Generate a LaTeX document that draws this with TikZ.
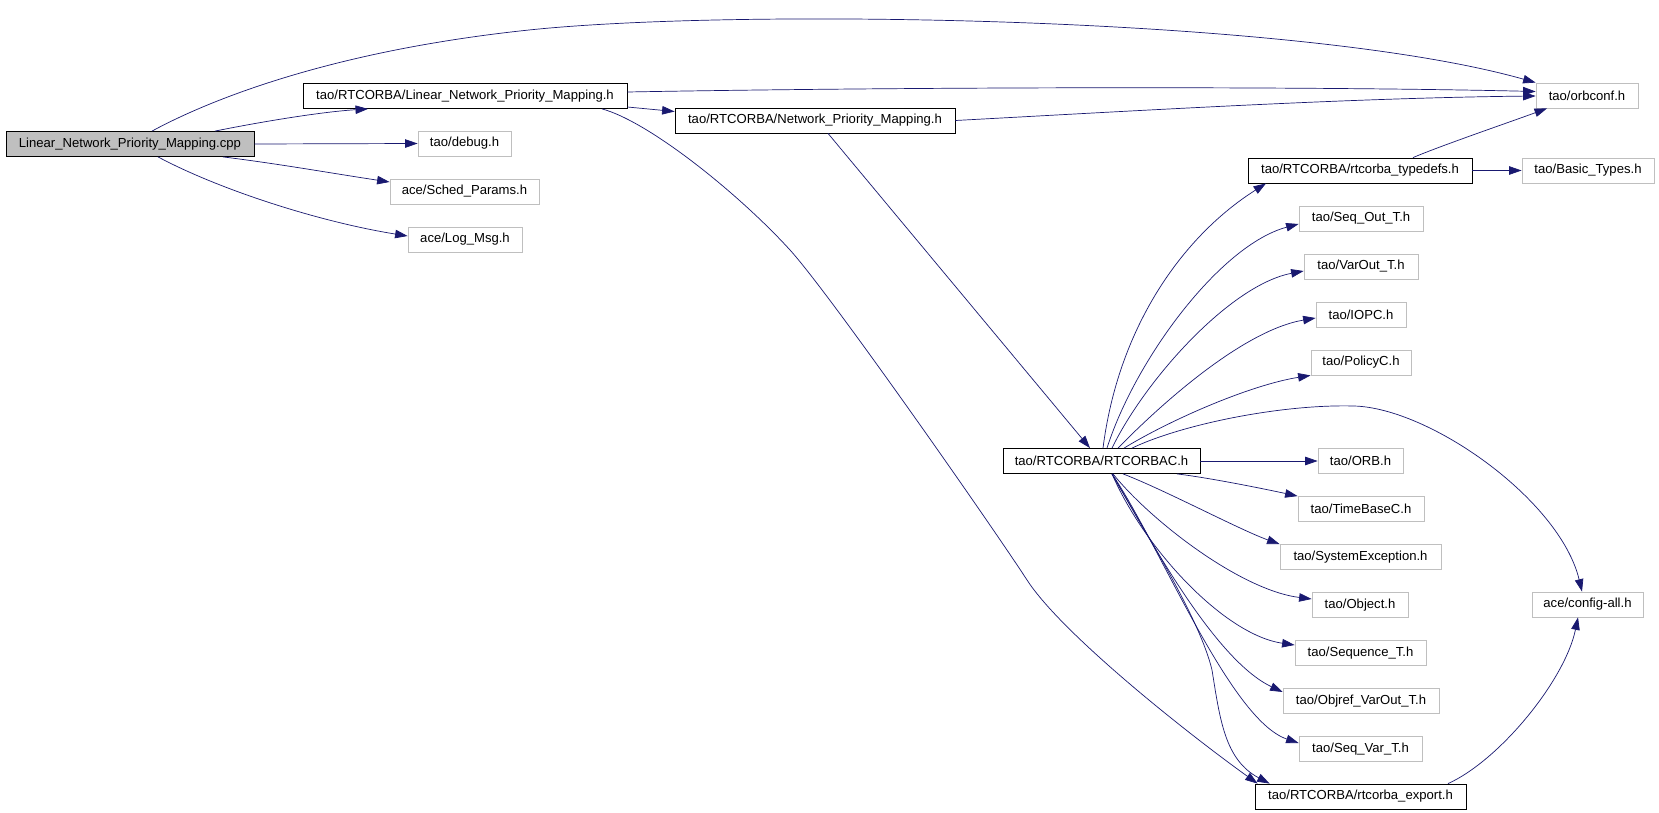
\documentclass[tikz,border=0pt]{standalone}
\usepackage{fontspec}
\setmainfont{Liberation Sans}
\usetikzlibrary{arrows.meta}
\definecolor{edgec}{HTML}{191970}
\definecolor{gbord}{HTML}{BFBFBF}
\begin{document}
\begin{tikzpicture}[x=1pt,y=-1pt,
  box/.style={draw=black, line width=0.8pt, inner sep=0pt, minimum height=25pt, font=\fontsize{13.1}{15}\selectfont, text=black},
  gbox/.style={box, draw=gbord},
  edge/.style={draw=edgec, line width=0.7pt, -{Triangle[length=12.5pt,width=8.5pt]}}]
\useasboundingbox[fill=white] (0,0) rectangle (1659,813);
% nodes
\node[box, fill=gbord, minimum width=248pt] (cpp) at (130,144) {Linear\_Network\_Priority\_Mapping.cpp};
\node[box, minimum width=324pt] (lnpm) at (465,96) {tao/RTCORBA/Linear\_Network\_Priority\_Mapping.h};
\node[gbox, minimum width=93pt] (debug) at (464.5,143.5) {tao/debug.h};
\node[gbox, minimum width=149pt] (sched) at (464.5,191.5) {ace/Sched\_Params.h};
\node[gbox, minimum width=114pt] (logmsg) at (465,239.5) {ace/Log\_Msg.h};
\node[gbox, minimum width=102pt] (orbconf) at (1587,95.5) {tao/orbconf.h};
\node[box, minimum width=280pt] (npm) at (815,120.5) {tao/RTCORBA/Network\_Priority\_Mapping.h};
\node[box, minimum width=224pt] (typedefs) at (1360,170.5) {tao/RTCORBA/rtcorba\_typedefs.h};
\node[gbox, minimum width=132pt] (basic) at (1588,170.5) {tao/Basic\_Types.h};
\node[gbox, minimum width=124pt] (seqout) at (1361,218.5) {tao/Seq\_Out\_T.h};
\node[gbox, minimum width=114pt] (varout) at (1361,266.5) {tao/VarOut\_T.h};
\node[gbox, minimum width=90pt] (iopc) at (1361,314.5) {tao/IOPC.h};
\node[gbox, minimum width=100pt] (policyc) at (1361,362.5) {tao/PolicyC.h};
\node[box, minimum width=197pt] (rtc) at (1101.5,461) {tao/RTCORBA/RTCORBAC.h};
\node[gbox, minimum width=85pt] (orb) at (1360.5,461) {tao/ORB.h};
\node[gbox, minimum width=126pt] (timebase) at (1361,509) {tao/TimeBaseC.h};
\node[gbox, minimum width=161pt] (sysexc) at (1360.5,557) {tao/SystemException.h};
\node[gbox, minimum width=96pt] (object) at (1360,605) {tao/Object.h};
\node[gbox, minimum width=131pt] (sequence) at (1360.5,653) {tao/Sequence\_T.h};
\node[gbox, minimum width=156pt] (objref) at (1361,701) {tao/Objref\_VarOut\_T.h};
\node[gbox, minimum width=123pt] (seqvar) at (1360.5,749) {tao/Seq\_Var\_T.h};
\node[box, minimum width=211pt] (export) at (1360.5,796.5) {tao/RTCORBA/rtcorba\_export.h};
\node[gbox, minimum width=111pt] (config) at (1587.5,604.5) {ace/config-all.h};
% edges from cpp
\draw[edge] ([xshift=22pt]cpp.north) .. controls (200,105) and (320,52) .. (529,30)
  .. controls (738,8) and (1300,16) .. (orbconf.north west);
\draw[edge] ([xshift=85pt]cpp.north) .. controls (260,122) and (320,112) .. ([xshift=-97pt]lnpm.south);
\draw[edge] (cpp.east) -- (debug.west);
\draw[edge] ([xshift=93pt]cpp.south) .. controls (280,164) and (330,173) .. ([yshift=9.5pt]sched.west);
\draw[edge] ([xshift=28pt]cpp.south) .. controls (220,190) and (320,222) .. ([yshift=3.5pt]logmsg.west);
% edges from lnpm
\draw[edge] ([yshift=4pt]lnpm.east) .. controls (900,87) and (1300,86) .. ([yshift=4pt]orbconf.west);
\draw[edge] ([yshift=-11pt]lnpm.east) -- ([yshift=9pt]npm.west);
\draw[edge] ([xshift=137pt]lnpm.south) .. controls (650,122) and (740,195) .. (790,250)
  .. controls (830,294) and (992,526) .. (1027,580)
  .. controls (1062,634) and (1187,733) .. ([xshift=3pt]export.north west);
% edges from npm
\draw[edge] (npm.east) .. controls (1150,110) and (1350,98) .. ([yshift=-0.5pt]orbconf.west);
\draw[edge] ([xshift=13pt]npm.south) -- ([xshift=-11.5pt]rtc.north);
% edges from rtc (upwards)
\draw[edge] ([xshift=1.5pt]rtc.north) .. controls (1118,330) and (1180,238) .. ([xshift=-94pt]typedefs.south);
\draw[edge] ([xshift=5.5pt]rtc.north) .. controls (1135,360) and (1220,245) .. ([yshift=-5.5pt]seqout.west);
\draw[edge] ([xshift=10.5pt]rtc.north) .. controls (1145,380) and (1230,285) .. ([yshift=-4.5pt]varout.west);
\draw[edge] ([xshift=16.5pt]rtc.north) .. controls (1165,400) and (1245,330) .. ([yshift=-3.5pt]iopc.west);
\draw[edge] ([xshift=22.5pt]rtc.north) .. controls (1170,420) and (1250,385) .. (policyc.south west);
\draw[edge] ([xshift=30.5pt]rtc.north) .. controls (1180,425) and (1280,404) .. (1354,406)
  .. controls (1430,408) and (1560,500) .. ([xshift=-5.5pt]config.north);
% edges from rtc (right / down)
\draw[edge] (rtc.east) -- (orb.west);
\draw[edge] ([xshift=75.5pt]rtc.south) .. controls (1210,478) and (1260,488) .. (timebase.north west);
\draw[edge] ([xshift=21.5pt]rtc.south) .. controls (1165,490) and (1240,530) .. (sysexc.north west);
\draw[edge] ([xshift=11.5pt]rtc.south) .. controls (1150,520) and (1240,590) .. ([yshift=6pt]object.west);
\draw[edge] ([xshift=10.5pt]rtc.south) .. controls (1145,550) and (1225,635) .. ([yshift=8pt]sequence.west);
\draw[edge] ([xshift=10.5pt]rtc.south) .. controls (1150,540) and (1215,660) .. ([yshift=9pt]objref.west);
\draw[edge] ([xshift=10.5pt]rtc.south) .. controls (1160,545) and (1230,720) .. ([yshift=6pt]seqvar.west);
\draw[edge] ([xshift=10.5pt]rtc.south) .. controls (1150,540) and (1200,620) .. (1212,670)
  .. controls (1220,720) and (1225,760) .. ([xshift=15pt]export.north west);
% others
\draw[edge] ([xshift=53pt]typedefs.north) .. controls (1440,146) and (1510,122) .. ([xshift=-40pt]orbconf.south);
\draw[edge] (typedefs.east) -- (basic.west);
\draw[edge] ([xshift=87.5pt]export.north) .. controls (1500,760) and (1565,680) .. ([xshift=-9.5pt]config.south);
\end{tikzpicture}
\end{document}
